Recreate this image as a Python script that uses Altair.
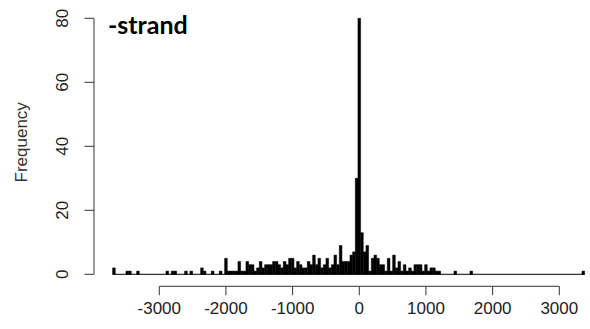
import altair as alt
import pandas as pd

# ---- data (bin centres, bin width 40) ----
bin_centers = [
    -3680, -3480, -3440, -3320, -2880, -2800, -2760, -2600, -2520, -2360, -2320, -2200, -2080,
    -2000, -1960, -1920, -1880, -1840, -1800, -1760, -1720, -1680, -1640, -1600, -1560, -1520,
    -1480, -1440, -1400, -1360, -1320, -1280, -1240, -1200, -1160, -1120, -1080, -1040, -1000,
    -960, -920, -880, -840, -800, -760, -720, -680, -640, -600, -560, -520, -480, -440, -400,
    -360, -320, -280, -240, -200, -160, -120, -80, -40, 0, 40, 80, 120, 160, 200, 240, 280,
    320, 360, 400, 440, 480, 520, 560, 600, 640, 680, 720, 760, 800, 840, 880, 920, 960,
    1000, 1040, 1080, 1120, 1160, 1200, 1440, 1680, 3360,
]
counts = [
    2, 1, 1, 1, 1, 1, 1, 1, 1, 2, 1, 1, 1,
    5, 1, 1, 1, 1, 4, 1, 1, 4, 3, 3, 1, 2,
    4, 2, 3, 3, 3, 4, 4, 3, 2, 4, 3, 5, 5,
    2, 4, 3, 2, 2, 4, 3, 6, 3, 5, 2, 3, 5, 2, 3,
    6, 3, 9, 4, 4, 4, 6, 7, 30, 80, 13, 7, 9, 1, 5, 6, 5,
    3, 3, 1, 5, 1, 6, 2, 4, 1, 3, 1, 2, 1, 3, 3, 3, 1,
    3, 1, 2, 2, 1, 1, 1, 1, 1,
]
x_ticks = [-3000, -2000, -1000, 0, 1000, 2000, 3000]
y_ticks = [0, 20, 40, 60, 80]
panel_label = ["-strand"]
y_title = ["Frequency"]

HALF_BIN = 20
W, H = 486.7, 272
X_OFF, Y_OFF = 12, 8.6
TICK_X, TICK_Y = 9, 9.5
X_DOMAIN = [-3850, 3450]
Y_DOMAIN = [0, 85]

df = pd.DataFrame({"center": bin_centers, "count": counts})
x_scale = alt.Scale(domain=X_DOMAIN, nice=False, zero=False)
y_scale = alt.Scale(domain=Y_DOMAIN, nice=False, zero=False)

# positions of the offset axis lines expressed in data units (scales extrapolate)
x_line_at_y = Y_DOMAIN[0] - X_OFF * (Y_DOMAIN[1] - Y_DOMAIN[0]) / H
y_line_at_x = X_DOMAIN[0] - Y_OFF * (X_DOMAIN[1] - X_DOMAIN[0]) / W

base = alt.Chart(df).transform_calculate(
    start=f"datum.center - {HALF_BIN}", end=f"datum.center + {HALF_BIN}"
)

bars = base.mark_rect(fill="black", stroke="black", strokeWidth=0.5).encode(
    x=alt.X("start:Q", scale=x_scale, axis=None),
    x2="end:Q",
    y=alt.Y("count:Q", scale=y_scale, axis=None),
    y2=alt.Y2(datum=0),
)

baseline = base.mark_rule(color="black", strokeWidth=1).encode(
    x=alt.X("min(start):Q", scale=x_scale, axis=None),
    x2="max(end):Q",
    y=alt.Y(datum=0, scale=y_scale, axis=None),
)

# ---- R-style axes drawn as marks (lines span first..last tick only) ----
xt_df = pd.DataFrame({"v": x_ticks, "lab": [str(v) for v in x_ticks]})
yt_df = pd.DataFrame({"v": y_ticks, "lab": [str(v) for v in y_ticks]})

x_axis_line = alt.Chart(xt_df).mark_rule(color="#333", strokeWidth=1).encode(
    x=alt.X("min(v):Q", scale=x_scale, axis=None),
    x2="max(v):Q",
    y=alt.Y(datum=x_line_at_y, scale=y_scale, axis=None),
)
x_tick_marks = alt.Chart(xt_df).mark_rule(color="#333", strokeWidth=1).encode(
    x=alt.X("v:Q", scale=x_scale, axis=None),
    y=alt.value(H + X_OFF), y2=alt.value(H + X_OFF + TICK_X),
)
x_tick_labels = alt.Chart(xt_df).mark_text(
    font="Liberation Sans", fontSize=17, color="#222", align="center", baseline="middle"
).encode(x=alt.X("v:Q", scale=x_scale, axis=None), y=alt.value(H + 34.7), text="lab:N")

y_axis_line = alt.Chart(yt_df).mark_rule(color="#333", strokeWidth=1).encode(
    y=alt.Y("min(v):Q", scale=y_scale, axis=None),
    y2="max(v):Q",
    x=alt.X(datum=y_line_at_x, scale=x_scale, axis=None),
)
y_tick_marks = alt.Chart(yt_df).mark_rule(color="#333", strokeWidth=1).encode(
    y=alt.Y("v:Q", scale=y_scale, axis=None),
    x=alt.value(-Y_OFF), x2=alt.value(-Y_OFF - TICK_Y),
)
y_tick_labels = alt.Chart(yt_df).mark_text(
    font="Liberation Sans", fontSize=17, color="#222", align="center", baseline="middle",
    angle=270,
).encode(y=alt.Y("v:Q", scale=y_scale, axis=None), x=alt.value(-39.6), text="lab:N")

y_title_mark = alt.Chart(pd.DataFrame({"t": y_title})).mark_text(
    font="Liberation Sans", fontSize=17, color="#333", align="center", baseline="middle",
    angle=270,
).encode(x=alt.value(-80.6), y=alt.value(H / 2 + 4), text="t:N")

label = alt.Chart(pd.DataFrame({"t": panel_label})).mark_text(
    font="Lato", fontWeight="bold", fontSize=25, align="left", baseline="alphabetic", color="black"
).encode(x=alt.value(5.4), y=alt.value(31.7), text="t:N")

chart = (
    alt.layer(
        bars, baseline, x_axis_line, x_tick_marks, x_tick_labels,
        y_axis_line, y_tick_marks, y_tick_labels, y_title_mark, label,
    )
    .properties(
        width=W, height=H,
        autosize=alt.AutoSizeParams(type="none"),
        padding={"left": 102.6, "top": 2.3, "right": 0.7, "bottom": 54.7},
        background="white",
    )
    .configure_view(stroke=None)
)

chart.save("out.html", embed_options={"renderer": "svg", "actions": False})
